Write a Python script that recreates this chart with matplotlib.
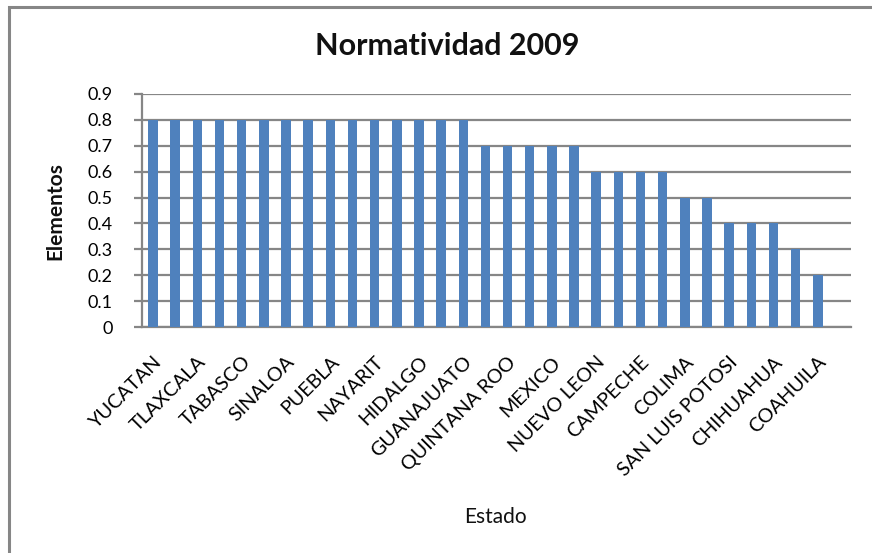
import matplotlib
matplotlib.use("Agg")
import matplotlib.pyplot as plt
from matplotlib.patches import Rectangle
import numpy as np

# Datos: normatividad por estado, 2009
estados = ["YUCATAN", "AGUASCALIENTES", "TLAXCALA", "BAJA CALIFORNIA", "TABASCO",
           "CHIAPAS", "SINALOA", "DISTRITO FEDERAL", "PUEBLA", "DURANGO",
           "NAYARIT", "GUERRERO", "HIDALGO", "JALISCO", "GUANAJUATO",
           "MICHOACAN", "QUINTANA ROO", "MORELOS", "MEXICO", "OAXACA",
           "NUEVO LEON", "QUERETARO", "CAMPECHE", "SONORA", "COLIMA",
           "TAMAULIPAS", "SAN LUIS POTOSI", "VERACRUZ", "CHIHUAHUA", "ZACATECAS",
           "COAHUILA", "BAJA CALIFORNIA SUR"]
valores = [0.8] * 15 + [0.7] * 5 + [0.6] * 4 + [0.5] * 2 + [0.4] * 3 + [0.3, 0.2, 0.0]
etiquetas = [e if i % 2 == 0 else "" for i, e in enumerate(estados)]
yticks = [0, 0.1, 0.2, 0.3, 0.4, 0.5, 0.6, 0.7, 0.8, 0.9]

gris = "#868686"
azul = "#4F81BD"
plt.rcParams['font.family'] = ['Lato', 'DejaVu Sans']
plt.rcParams['text.color'] = '#111111'

fig = plt.figure(figsize=(8.72, 5.53), dpi=100)
ax = fig.add_axes([142 / 872, 1 - 327 / 553, (851 - 142) / 872, (327 - 94) / 553])

x = np.arange(len(estados))
ax.bar(x, valores, width=0.43, color=azul, zorder=3)

ax.set_xlim(-0.5, len(estados) - 0.5)
ax.set_ylim(0, 0.9)
ax.set_yticks(yticks)
ax.set_yticklabels([f"{v:g}" for v in yticks], fontsize=13)
ax.yaxis.grid(True, color=gris, linewidth=1.6, zorder=0)
ax.set_axisbelow(True)

ax.set_xticks(x)
ax.set_xticklabels(etiquetas, rotation=45, ha="right", va="top",
                   rotation_mode="anchor", fontsize=14.2)
ax.tick_params(axis="x", length=0, pad=19)
ax.tick_params(axis="y", length=6, width=1.6, color=gris, pad=15)

for s in ["top", "right"]:
    ax.spines[s].set_visible(False)
for s in ["left", "bottom"]:
    ax.spines[s].set_color(gris)
    ax.spines[s].set_linewidth(1.6)

fig.text(55 / 872, 1 - 211 / 553, "Elementos", rotation=90, ha="center", va="center",
         fontsize=15, fontweight="bold")
fig.text(495 / 872, 1 - 517 / 553, "Estado", ha="center", va="center", fontsize=15)
fig.text(447 / 872, 1 - 46 / 553, "Normatividad 2009", ha="center", va="center",
         fontsize=22, fontweight="bold")

# marco exterior del grafico
fig.patches.append(Rectangle((9 / 872, -0.1), 1.2, 1 - 6.5 / 553 + 0.1,
                             transform=fig.transFigure, fill=False,
                             edgecolor=gris, linewidth=2.2))

fig.savefig("out.png", dpi=100)
